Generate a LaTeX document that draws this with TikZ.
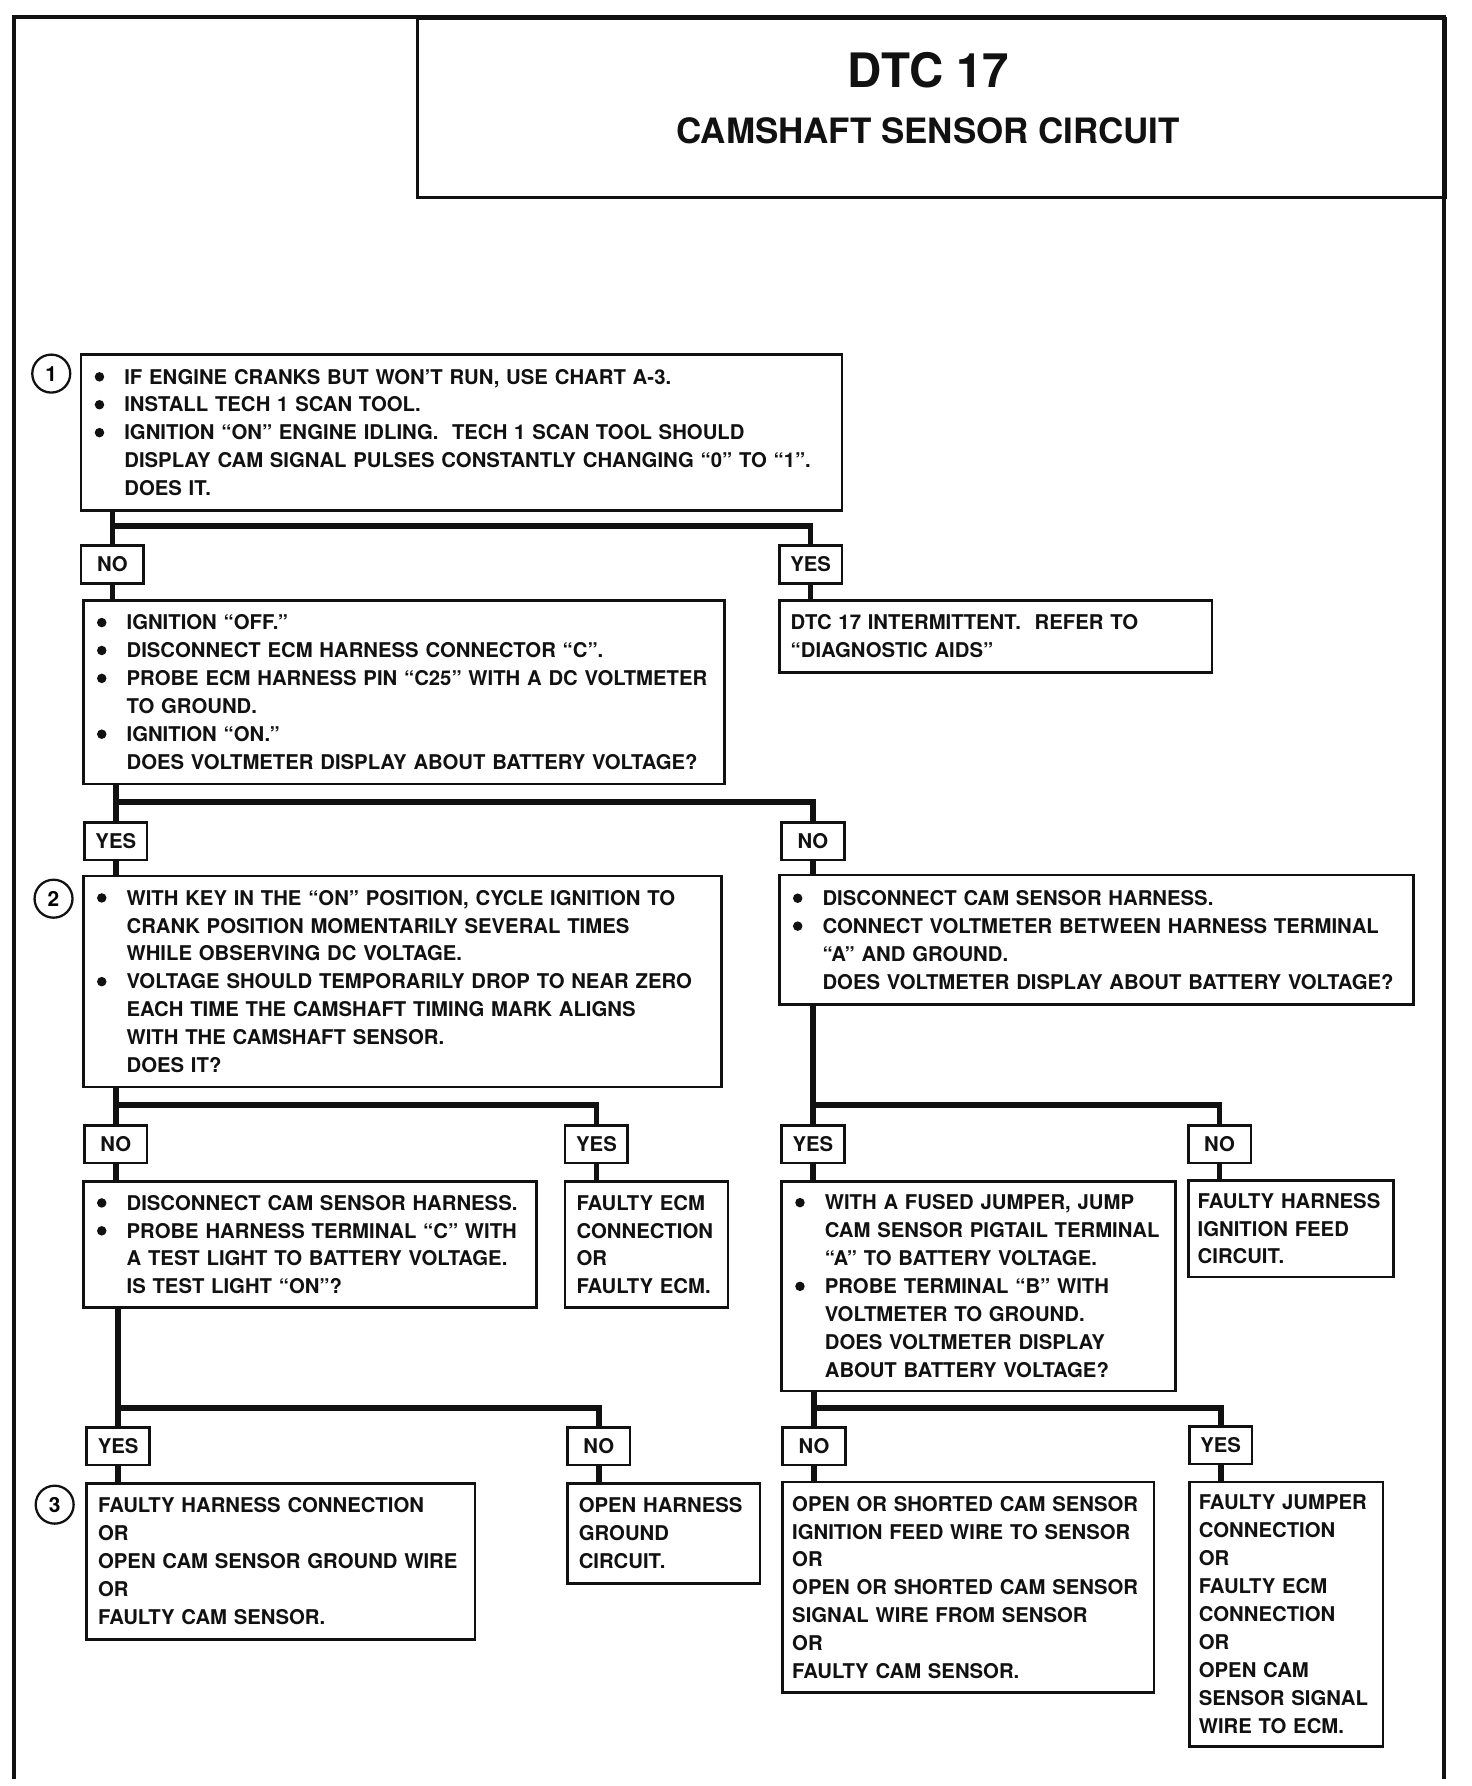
\documentclass[tikz,border=0pt]{standalone}
\usepackage{fontspec}
\setmainfont{TeX Gyre Heros}
\usepackage{tikz}
\usetikzlibrary{positioning,calc}
\definecolor{dtcInk}{HTML}{111111}
\newcommand{\chartfont}{\bfseries\fontsize{10.7}{14.7}\selectfont}
\newcommand{\bul}{\makebox[16.8pt][l]{\hspace{1.2pt}\tikz[baseline=-3.8pt]\fill[dtcInk] (2.5pt,0pt) circle (2.5pt);}}
\newcommand{\ind}{\hspace*{16.8pt}}
\tikzset{
  stepbox/.style = {draw=dtcInk, line width=1.4pt, anchor=north west, align=left,
                    inner xsep=6pt, inner ysep=0pt, font=\chartfont, text=dtcInk},
  ansbox/.style  = {draw=dtcInk, line width=1.4pt, anchor=north west, inner sep=0pt,
                    minimum width=33pt, minimum height=19.8pt, font=\chartfont, text=dtcInk},
  numcirc/.style = {circle, draw=dtcInk, line width=1.2pt, minimum size=20pt, inner sep=0pt,
                    font=\bfseries\fontsize{11}{11}\selectfont},
  ttlbox/.style  = {draw=dtcInk, line width=1.6pt, anchor=north west, inner sep=0pt},
  ttlbig/.style  = {font=\bfseries\fontsize{25}{25}\selectfont, text=dtcInk, inner sep=0pt},
  ttlsub/.style  = {font=\bfseries\fontsize{18.4}{18.4}\selectfont, text=dtcInk, inner sep=0pt},
  link/.style    = {line width=3pt, draw=dtcInk},
  frame/.style   = {line width=2pt, draw=dtcInk},
}

\begin{document}
\begin{tikzpicture}[x=0.6pt, y=-0.6pt]
  \useasboundingbox (0,0) rectangle (1292,1568);

  % page frame and title block
  \draw[frame] (12,1562) -- (12,15) -- (1268,15) -- (1268,1562);
  \node[ttlbox, minimum width=541.8pt, minimum height=94.2pt] (ttl) at (365,15) {};
  \node[ttlbig] (dtc) at (815,62) {DTC 17};
  \node[ttlsub] (cir) at (815,115) {CAMSHAFT SENSOR CIRCUIT};

  % step 1
  \node[numcirc] (c1) at (45,328) {1};
  \node[stepbox, text width=388.8pt, minimum height=82.2pt] (b1) at (70,310)
    {\bul IF ENGINE CRANKS BUT WON’T RUN, USE CHART A-3.\\
     \bul INSTALL TECH 1 SCAN TOOL.\\
     \bul IGNITION “ON” ENGINE IDLING.\ \ TECH 1 SCAN TOOL SHOULD\\
     \ind DISPLAY CAM SIGNAL PULSES CONSTANTLY CHANGING “0” TO “1”.\\
     \ind DOES IT.};
  \coordinate (j1) at (0,462);
  \node[ansbox] (n1) at (70,478) {NO};
  \node[ansbox] (y1) at (683,478) {YES};

  \node[stepbox, text width=325.8pt, minimum height=96.6pt] (b2) at (72,526)
    {\bul IGNITION “OFF.”\\
     \bul DISCONNECT ECM HARNESS CONNECTOR “C”.\\
     \bul PROBE ECM HARNESS PIN “C25” WITH A DC VOLTMETER\\
     \ind TO GROUND.\\
     \bul IGNITION “ON.”\\
     \ind DOES VOLTMETER DISPLAY ABOUT BATTERY VOLTAGE?};
  \node[stepbox, text width=216pt, minimum height=37.8pt] (b2y) at (683,526)
    {DTC 17 INTERMITTENT.\ \ REFER TO\\
     “DIAGNOSTIC AIDS”};
  \coordinate (j2) at (0,704);
  \node[ansbox] (y2) at (73,721) {YES};
  \node[ansbox] (n2) at (685,721) {NO};

  % step 2
  \node[numcirc] (c2) at (47,789) {2};
  \node[stepbox, text width=324pt, minimum height=111pt] (b3) at (72,768)
    {\bul WITH KEY IN THE “ON” POSITION, CYCLE IGNITION TO\\
     \ind CRANK POSITION MOMENTARILY SEVERAL TIMES\\
     \ind WHILE OBSERVING DC VOLTAGE.\\
     \bul VOLTAGE SHOULD TEMPORARILY DROP TO NEAR ZERO\\
     \ind EACH TIME THE CAMSHAFT TIMING MARK ALIGNS\\
     \ind WITH THE CAMSHAFT SENSOR.\\
     \ind DOES IT?};
  \node[stepbox, text width=322.2pt, minimum height=68.4pt] (b4) at (683,767)
    {\bul DISCONNECT CAM SENSOR HARNESS.\\
     \bul CONNECT VOLTMETER BETWEEN HARNESS TERMINAL\\
     \ind “A” AND GROUND.\\
     \ind DOES VOLTMETER DISPLAY ABOUT BATTERY VOLTAGE?};
  \coordinate (j3) at (0,970);
  \node[ansbox] (n3) at (73,987) {NO};
  \node[ansbox] (y3) at (495,987) {YES};
  \node[ansbox] (y4) at (685,987) {YES};
  \node[ansbox] (n4) at (1042,987) {NO};

  \node[stepbox, text width=226.8pt, minimum height=66.6pt] (b5) at (72,1036)
    {\bul DISCONNECT CAM SENSOR HARNESS.\\
     \bul PROBE HARNESS TERMINAL “C” WITH\\
     \ind A TEST LIGHT TO BATTERY VOLTAGE.\\
     \ind IS TEST LIGHT “ON”?};
  \node[stepbox, text width=73.8pt, minimum height=66.6pt] (b6) at (495,1036)
    {FAULTY ECM\\ CONNECTION\\ OR\\ FAULTY ECM.};
  \node[stepbox, text width=195.6pt, minimum height=110.4pt] (b7) at (685,1036)
    {\bul WITH A FUSED JUMPER, JUMP\\
     \ind CAM SENSOR PIGTAIL TERMINAL\\
     \ind “A” TO BATTERY VOLTAGE.\\
     \bul PROBE TERMINAL “B” WITH\\
     \ind VOLTMETER TO GROUND.\\
     \ind DOES VOLTMETER DISPLAY\\
     \ind ABOUT BATTERY VOLTAGE?};
  \node[stepbox, inner xsep=5pt, text width=98pt, minimum height=51pt] (b8) at (1042,1035)
    {FAULTY HARNESS\\ IGNITION FEED\\ CIRCUIT.};
  \coordinate (j5) at (0,1236);
  \node[ansbox] (y5) at (75,1252) {YES};
  \node[ansbox] (n5) at (497,1252) {NO};
  \node[ansbox] (n6) at (686,1252) {NO};
  \node[ansbox] (y6) at (1043,1251) {YES};

  % step 3
  \node[numcirc] (c3) at (48,1321) {3};
  \node[stepbox, text width=192.6pt, minimum height=82.2pt] (b9) at (75,1301)
    {FAULTY HARNESS CONNECTION\\ OR\\ OPEN CAM SENSOR GROUND WIRE\\ OR\\ FAULTY CAM SENSOR.};
  \node[stepbox, text width=89.4pt, minimum height=52.8pt] (b10) at (497,1301)
    {OPEN HARNESS\\ GROUND\\ CIRCUIT.};
  \node[stepbox, inner xsep=5pt, text width=185.6pt, minimum height=111pt] (b11) at (686,1300)
    {OPEN OR SHORTED CAM SENSOR\\ IGNITION FEED WIRE TO SENSOR\\ OR\\
     OPEN OR SHORTED CAM SENSOR\\ SIGNAL WIRE FROM SENSOR\\ OR\\ FAULTY CAM SENSOR.};
  \node[stepbox, inner xsep=5pt, text width=92pt, minimum height=139.2pt] (b12) at (1043,1300)
    {FAULTY JUMPER\\ CONNECTION\\ OR\\ FAULTY ECM\\ CONNECTION\\ OR\\
     OPEN CAM\\ SENSOR SIGNAL\\ WIRE TO ECM.};

  % branch bars
  \draw[link] (b1.south -| n1) -- (n1 |- j1) -- (y1 |- j1) -- (y1.north);
  \draw[link] (n1 |- j1) -- (n1.north);
  \draw[link] (b2.south -| y2) -- (y2 |- j2) -- (n2 |- j2) -- (n2.north);
  \draw[link] (y2 |- j2) -- (y2.north);
  \draw[link] (b3.south -| n3) -- (n3 |- j3) -- (y3 |- j3) -- (y3.north);
  \draw[link] (n3 |- j3) -- (n3.north);
  \draw[link] (b4.south -| y4) -- (y4 |- j3) -- (n4 |- j3) -- (n4.north);
  \draw[link] (y4 |- j3) -- (y4.north);
  \draw[link] (b5.south -| y5) -- (y5 |- j5) -- (n5 |- j5) -- (n5.north);
  \draw[link] (y5 |- j5) -- (y5.north);
  \draw[link] (b7.south -| n6) -- (n6 |- j5) -- (y6 |- j5) -- (y6.north);
  \draw[link] (n6 |- j5) -- (n6.north);

  % answer to next box
  \foreach \a/\b in {n1/b2, y1/b2y, y2/b3, n2/b4, n3/b5, y3/b6, y4/b7, n4/b8,
                     y5/b9, n5/b10, n6/b11, y6/b12}
    \draw[link] (\a.south) -- (\a |- \b.north);
\end{tikzpicture}
\end{document}
